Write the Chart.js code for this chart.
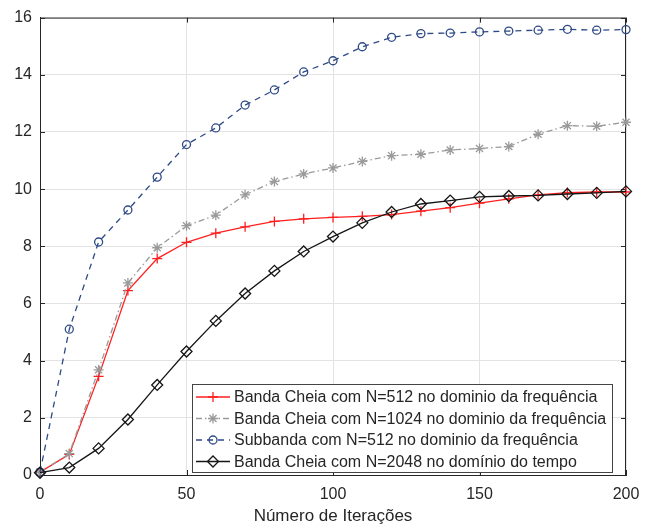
<!DOCTYPE html>
<html>
<head>
<meta charset="utf-8">
<script src="https://cdn.jsdelivr.net/npm/chart.js@4"></script>
<style>
  html, body { margin: 0; padding: 0; background: #fff; }
  #wrap { width: 653px; height: 527px; }
</style>
</head>
<body>
<div id="wrap"><canvas id="chart" width="653" height="527"></canvas></div>
<script>
// iteration counts along the x axis
const iteracoes = [0, 10, 20, 30, 40, 50, 60, 70, 80, 90, 100, 110, 120, 130, 140, 150, 160, 170, 180, 190, 200];

const cheia512 = [0.1, 0.72, 3.45, 6.45, 7.57, 8.14, 8.46, 8.68, 8.87, 8.96, 9.01, 9.05, 9.11, 9.23, 9.35, 9.51, 9.66, 9.8, 9.88, 9.9, 9.9];
const cheia1024 = [0.1, 0.75, 3.68, 6.72, 7.95, 8.72, 9.09, 9.8, 10.27, 10.53, 10.74, 10.97, 11.17, 11.22, 11.37, 11.42, 11.49, 11.92, 12.22, 12.2, 12.34];
const subbanda512 = [0.1, 5.1, 8.15, 9.27, 10.42, 11.56, 12.14, 12.94, 13.47, 14.1, 14.49, 14.98, 15.31, 15.44, 15.46, 15.5, 15.53, 15.56, 15.59, 15.56, 15.58];
const cheia2048 = [0.08, 0.26, 0.93, 1.94, 3.15, 4.32, 5.39, 6.35, 7.14, 7.82, 8.34, 8.82, 9.2, 9.48, 9.6, 9.73, 9.76, 9.78, 9.83, 9.87, 9.92];

const nomes = [
  "Banda Cheia com N=512 no dominio da frequência",
  "Banda Cheia com N=1024 no dominio da frequência",
  "Subbanda com N=512 no dominio da frequência",
  "Banda Cheia com N=2048 no domínio do tempo"
];
const yTicks = [0, 2, 4, 6, 8, 10, 12, 14, 16];
const xTicks = [0, 50, 100, 150, 200];

const FONT = '"Liberation Sans", Arial, Helvetica, sans-serif';
const INK = "#262626";

function pts(ys) { return iteracoes.map((x, i) => ({ x, y: ys[i] })); }

const datasets = [
  { label: nomes[0], data: pts(cheia512), borderColor: "#ff1f1f", pointStyle: "cross", pointRadius: 5, borderDash: [], order: 4 },
  { label: nomes[1], data: pts(cheia1024), borderColor: "#9a9a9a", pointStyle: "star", pointRadius: 5, borderDash: [6, 3, 1.5, 3], order: 3 },
  { label: nomes[2], data: pts(subbanda512), borderColor: "#2e4a86", pointStyle: "circle", pointRadius: 4, borderDash: [6, 5], order: 2 },
  { label: nomes[3], data: pts(cheia2048), borderColor: "#151515", pointStyle: "rectRot", pointRadius: 5.5, borderDash: [], order: 1 }
].map(d => Object.assign(d, {
  borderWidth: 1.3,
  pointBorderColor: d.borderColor,
  pointBackgroundColor: "rgba(0,0,0,0)",
  pointBorderWidth: 1.3,
  fill: false,
  tension: 0,
  clip: false
}));

// axes box with inward ticks, like the original plot
const frame = {
  id: "frame",
  beforeDatasetsDraw(chart) {
    const { ctx, chartArea: a, scales } = chart;
    ctx.save();
    ctx.strokeStyle = INK;
    ctx.lineWidth = 1;
    ctx.strokeRect(a.left + 0.5, a.top + 0.5, a.right - a.left - 1, a.bottom - a.top);
    ctx.beginPath();
    yTicks.forEach(v => {
      const y = Math.round(scales.y.getPixelForValue(v)) + 0.5;
      ctx.moveTo(a.left, y); ctx.lineTo(a.left + 5, y);
      ctx.moveTo(a.right, y); ctx.lineTo(a.right - 5, y);
    });
    xTicks.forEach(v => {
      const x = Math.round(scales.x.getPixelForValue(v)) + 0.5;
      ctx.moveTo(x, a.bottom); ctx.lineTo(x, a.bottom - 5);
      ctx.moveTo(x, a.top); ctx.lineTo(x, a.top + 5);
    });
    ctx.stroke();
    ctx.restore();
  }
};

// legend box inside the plot, bottom right
const legendBox = {
  id: "legendBox",
  afterDraw(chart) {
    const { ctx, chartArea: a } = chart;
    const w = 420, rowH = 21.5, h = 88;
    const x0 = a.right - 14 - w, y0 = a.bottom - 3 - h;
    ctx.save();
    ctx.fillStyle = "#fff";
    ctx.fillRect(x0, y0, w, h);
    ctx.strokeStyle = "#444";
    ctx.lineWidth = 1;
    ctx.strokeRect(x0 + 0.5, y0 + 0.5, w, h);
    ctx.font = "16px " + FONT;
    ctx.textBaseline = "middle";
    chart.data.datasets.forEach((d, i) => {
      const cy = y0 + 13 + i * rowH;
      ctx.strokeStyle = d.borderColor;
      ctx.lineWidth = d.borderWidth;
      ctx.setLineDash(d.borderDash);
      ctx.beginPath();
      ctx.moveTo(x0 + 4, cy); ctx.lineTo(x0 + 38, cy);
      ctx.stroke();
      ctx.setLineDash([]);
      ctx.fillStyle = "rgba(0,0,0,0)";
      Chart.helpers.drawPoint(ctx, {
        pointStyle: d.pointStyle, radius: d.pointRadius, borderWidth: d.pointBorderWidth, rotation: 0
      }, x0 + 21, cy);
      ctx.fillStyle = INK;
      ctx.fillText(d.label, x0 + 42, cy + 1);
    });
    ctx.restore();
  }
};

new Chart(document.getElementById("chart"), {
  type: "line",
  data: { datasets },
  plugins: [frame, legendBox],
  options: {
    responsive: false,
    animation: false,
    layout: { padding: { top: 14, right: 27, left: 0, bottom: 0 } },
    plugins: { legend: { display: false }, tooltip: { enabled: false } },
    scales: {
      x: {
        type: "linear", min: 0, max: 200,
        afterBuildTicks: s => { s.ticks = xTicks.map(v => ({ value: v })); },
        afterFit: s => { s.height = 52; },
        ticks: { color: INK, font: { family: FONT, size: 16 }, padding: 10 },
        grid: { color: "#e3e3e3", drawTicks: false },
        border: { color: INK },
        title: { display: true, text: "Número de Iterações", color: INK, font: { family: FONT, size: 17 }, padding: { top: 0, bottom: 0 } }
      },
      y: {
        type: "linear", min: 0, max: 16,
        afterBuildTicks: s => { s.ticks = yTicks.map(v => ({ value: v })); },
        afterFit: s => { s.width = 40; },
        ticks: { color: INK, font: { family: FONT, size: 16 }, padding: 8 },
        grid: { color: "#e3e3e3", drawTicks: false },
        border: { color: INK }
      }
    }
  }
});
</script>
</body>
</html>
